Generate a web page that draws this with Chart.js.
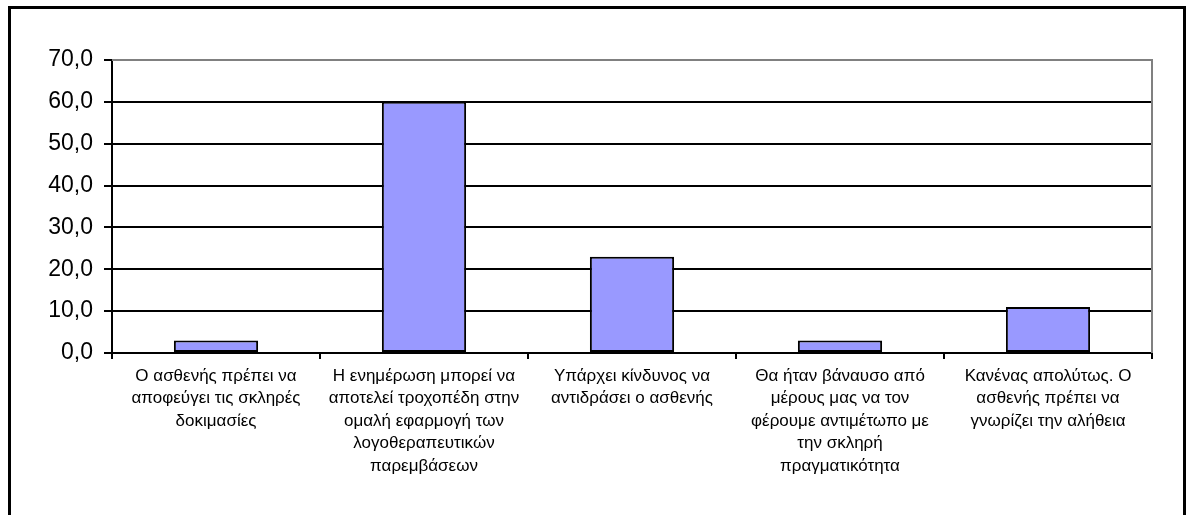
<!DOCTYPE html>
<html>
<head>
<meta charset="utf-8">
<script src="https://cdn.jsdelivr.net/npm/chart.js@4/dist/chart.umd.min.js"></script>
<style>
  html, body { margin: 0; padding: 0; background: #fff; }
  #wrap { width: 1190px; height: 515px; position: relative; }
</style>
</head>
<body>
<div id="wrap"><canvas id="c" width="1190" height="515"></canvas></div>
<script>
const categories = [
  ["Ο ασθενής πρέπει να", "αποφεύγει τις σκληρές", "δοκιμασίες"],
  ["Η ενημέρωση μπορεί να", "αποτελεί τροχοπέδη στην", "ομαλή εφαρμογή των", "λογοθεραπευτικών", "παρεμβάσεων"],
  ["Υπάρχει κίνδυνος να", "αντιδράσει ο ασθενής"],
  ["Θα ήταν βάναυσο από", "μέρους μας να τον", "φέρουμε αντιμέτωπο με", "την σκληρή", "πραγματικότητα"],
  ["Κανένας απολύτως. Ο", "ασθενής πρέπει να", "γνωρίζει την αλήθεια"]
];
const percentages = [3.0, 60.0, 23.0, 3.0, 11.0];
const yMin = 0, yMax = 70, yStep = 10;

// frame around the whole picture and grey top/right edges of the plot area
const framePlugin = {
  id: 'frame',
  afterDraw(chart) {
    const ctx = chart.ctx, a = chart.chartArea;
    ctx.save();
    ctx.strokeStyle = '#808080';
    ctx.lineWidth = 2;
    ctx.beginPath();
    ctx.moveTo(a.left, a.top);
    ctx.lineTo(a.right, a.top);
    ctx.lineTo(a.right, a.bottom);
    ctx.stroke();
    ctx.strokeStyle = '#000';
    ctx.lineWidth = 3;
    ctx.strokeRect(9.5, 7.5, 1175, 520);
    ctx.restore();
  }
};

new Chart(document.getElementById('c'), {
  type: 'bar',
  data: {
    labels: categories,
    datasets: [{
      data: percentages,
      backgroundColor: '#9999FF',
      borderColor: '#000',
      borderWidth: 2,
      borderSkipped: false,
      categoryPercentage: 1.0,
      barPercentage: 0.405
    }]
  },
  options: {
    responsive: false,
    animation: false,
    devicePixelRatio: 1,
    layout: { padding: { left: 20, top: 60, right: 38, bottom: 0 } },
    plugins: { legend: { display: false }, tooltip: { enabled: false } },
    scales: {
      x: {
        afterFit(s) { s.height = 515 - 353; },
        grid: {
          offset: true,
          drawOnChartArea: false,
          drawTicks: true,
          tickLength: 6,
          color: '#000',
          lineWidth: 2
        },
        border: { color: '#000', width: 2 },
        ticks: {
          color: '#000',
          padding: 6,
          maxRotation: 0,
          autoSkip: false,
          font: { family: 'Liberation Sans, Arial, sans-serif', size: 17, lineHeight: 1.32 }
        }
      },
      y: {
        min: yMin, max: yMax,
        afterFit(s) { s.width = 112 - 20; },
        grid: {
          color: (c) => c.tick && c.tick.value === yMax ? '#808080' : '#000',
          tickColor: '#000',
          lineWidth: 2,
          tickLength: 8
        },
        border: { color: '#000', width: 2 },
        ticks: {
          stepSize: yStep,
          color: '#000',
          padding: 11,
          font: { family: 'Liberation Sans, Arial, sans-serif', size: 23 },
          callback: (v) => v.toFixed(1).replace('.', ',')
        }
      }
    }
  },
  plugins: [framePlugin]
});
</script>
</body>
</html>
